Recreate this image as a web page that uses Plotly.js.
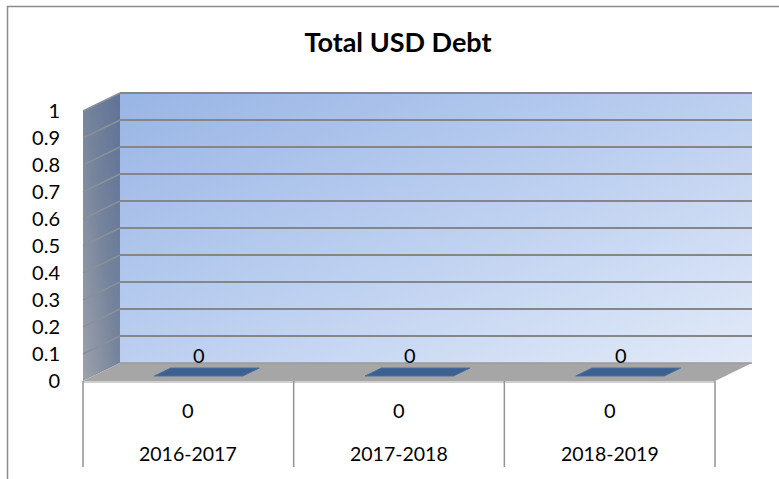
<!DOCTYPE html>
<html>
<head>
<meta charset="utf-8">
<script src="https://cdn.plot.ly/plotly-3.0.1.min.js"></script>
<style>
  html, body { margin: 0; padding: 0; background: #ffffff; }
  #chart { width: 779px; height: 479px; }
</style>
</head>
<body>
<div id="chart"></div>
<script>
// ---- data ----
const categories = ['2016-2017', '2017-2018', '2018-2019'];
const values = [0, 0, 0];
const yTicks = [0, 0.1, 0.2, 0.3, 0.4, 0.5, 0.6, 0.7, 0.8, 0.9, 1];
const chartTitle = 'Total USD Debt';

// ---- geometry (pixel anchors of the oblique 3-D frame) ----
const W = 779, H = 479;
const PL = 78, PR = 760, PT = 88, PB = 470;     // plot area box
const FRONT_LEFT = 83, FRONT_ZERO = 381;        // front-left corner of the floor
const CAT_PX = 210.67, UNIT_PX = 270;           // px per category, px per unit
const DEPTH_X_PX = 37, DEPTH_Y_PX = 18;         // oblique depth offset
const TABLE_BOTTOM_PX = 467;

const DX = DEPTH_X_PX / CAT_PX;
const DY = DEPTH_Y_PX / UNIT_PX;
const xRange = [-0.5 - (FRONT_LEFT - PL) / CAT_PX, -0.5 + (PR - FRONT_LEFT) / CAT_PX];
const yRange = [-(PB - FRONT_ZERO) / UNIT_PX, (FRONT_ZERO - PT) / UNIT_PX];
const yMax = yTicks[yTicks.length - 1];
const n = categories.length;
const xL = -0.5, xR = n - 0.5;
const tableBottom = -(TABLE_BOTTOM_PX - FRONT_ZERO) / UNIT_PX;
const px2paperX = p => (p - PL) / (PR - PL);
const px2paperY = p => (PB - p) / (PB - PT);

const FONT = 'Lato, "Open Sans", "Liberation Sans", sans-serif';

// ---- decorative wall images (gradients) ----
const svgURI = s => 'data:image/svg+xml;charset=utf-8,' + encodeURIComponent(s);
const backWallSVG =
  '<svg xmlns="http://www.w3.org/2000/svg" width="100" height="100" viewBox="0 0 100 100" preserveAspectRatio="none">' +
  '<defs><linearGradient id="g" x1="0" y1="0" x2="1" y2="1">' +
  '<stop offset="0" stop-color="#99b5e5"/><stop offset="0.5" stop-color="#bccff0"/><stop offset="1" stop-color="#e2eaf8"/>' +
  '</linearGradient></defs><rect x="0" y="0" width="100" height="100" fill="url(#g)"/></svg>';
const sideTop = 100 * DY / (yMax + DY);
const sideWallSVG =
  '<svg xmlns="http://www.w3.org/2000/svg" width="100" height="100" viewBox="0 0 100 100" preserveAspectRatio="none">' +
  '<defs><linearGradient id="s" x1="1" y1="0" x2="0" y2="1">' +
  '<stop offset="0" stop-color="#5f7398"/><stop offset="0.5" stop-color="#76849c"/><stop offset="1" stop-color="#9ca2ac"/>' +
  '</linearGradient></defs>' +
  '<polygon points="0,100 100,' + (100 - sideTop) + ' 100,0 0,' + sideTop + '" fill="url(#s)"/></svg>';

const images = [
  { source: svgURI(backWallSVG), xref: 'x', yref: 'y', x: xL + DX, y: yMax + DY,
    sizex: n, sizey: yMax, sizing: 'stretch', xanchor: 'left', yanchor: 'top', layer: 'below' },
  { source: svgURI(sideWallSVG), xref: 'x', yref: 'y', x: xL, y: yMax + DY,
    sizex: DX, sizey: yMax + DY, sizing: 'stretch', xanchor: 'left', yanchor: 'top', layer: 'below' }
];

// ---- shapes: floor, gridlines, table, border ----
const shapes = [];
// floor
shapes.push({ type: 'path', xref: 'x', yref: 'y', layer: 'between',
  path: `M ${xL} 0 L ${xR} 0 L ${xR + DX} ${DY} L ${xL + DX} ${DY} Z`,
  fillcolor: '#a6a6a6', line: { width: 0 } });
shapes.push({ type: 'line', xref: 'x', yref: 'y', layer: 'between',
  x0: xL, x1: xR, y0: -0.004, y1: -0.004, line: { color: '#cfcfcf', width: 2 } });
// gridlines on back wall and side wall
yTicks.forEach(t => {
  if (t === 0) return;
  shapes.push({ type: 'line', xref: 'x', yref: 'y', layer: 'between',
    x0: xL + DX, x1: xR + DX, y0: t + DY, y1: t + DY, line: { color: '#868686', width: 2 } });
  shapes.push({ type: 'line', xref: 'x', yref: 'y', layer: 'between',
    x0: xL, x1: xL + DX, y0: t, y1: t + DY, line: { color: '#8a9099', width: 1.5 } });
});
// back wall bottom edge
shapes.push({ type: 'line', xref: 'x', yref: 'y', layer: 'between',
  x0: xL + DX, x1: xR + DX, y0: DY, y1: DY, line: { color: '#9a9a9a', width: 1.5 } });
// data table verticals
for (let k = 0; k <= n; k++) {
  shapes.push({ type: 'line', xref: 'x', yref: 'y', layer: 'above',
    x0: xL + k, x1: xL + k, y0: 0, y1: tableBottom, line: { color: '#939393', width: 1.5 } });
}
// chart outer border (runs off the picture at right and bottom)
shapes.push({ type: 'rect', xref: 'paper', yref: 'paper', layer: 'above',
  x0: px2paperX(7.5), x1: px2paperX(W + 20), y0: px2paperY(H + 20), y1: px2paperY(6.5),
  line: { color: '#8c8c8c', width: 1.5 }, fillcolor: 'rgba(0,0,0,0)' });

// ---- bars (top face of each 3-D column, drawn from values) ----
const BAR_HALF = 0.21, D1 = 0.28, D2 = 0.72;
const traces = values.map((v, i) => {
  const fx = d => d * DX, fy = d => d * DY;
  const xs = [i - BAR_HALF + fx(D1), i + BAR_HALF + fx(D1), i + BAR_HALF + fx(D2), i - BAR_HALF + fx(D2), i - BAR_HALF + fx(D1)];
  const ys = [v + fy(D1), v + fy(D1), v + fy(D2), v + fy(D2), v + fy(D1)];
  return { type: 'scatter', mode: 'lines', x: xs, y: ys, fill: 'toself',
    fillcolor: '#3c6190', line: { color: '#4a6f9e', width: 1 },
    hoverinfo: 'skip', showlegend: false, cliponaxis: false };
});
// front faces (zero height here, but drawn from values)
values.forEach((v, i) => {
  traces.push({ type: 'scatter', mode: 'lines', fill: 'toself',
    x: [i - BAR_HALF + D1 * DX, i + BAR_HALF + D1 * DX, i + BAR_HALF + D1 * DX, i - BAR_HALF + D1 * DX, i - BAR_HALF + D1 * DX],
    y: [D1 * DY, D1 * DY, v + D1 * DY, v + D1 * DY, D1 * DY],
    fillcolor: '#4f81bd', line: { width: 0 }, hoverinfo: 'skip', showlegend: false });
});

// ---- annotations: data labels and table cells ----
const annotations = [];
values.forEach((v, i) => {
  annotations.push({ xref: 'x', yref: 'y', x: i + 0.3 * DX, y: v + 0.3 * DY, yshift: 21,
    text: String(v), showarrow: false, xanchor: 'center', yanchor: 'middle',
    font: { family: FONT, size: 20, color: '#000000' } });
  annotations.push({ xref: 'x', yref: 'y', x: i, y: -29 / UNIT_PX,
    text: String(v), showarrow: false, xanchor: 'center', yanchor: 'middle',
    font: { family: FONT, size: 20, color: '#000000' } });
  annotations.push({ xref: 'x', yref: 'y', x: i, y: -72 / UNIT_PX,
    text: categories[i], showarrow: false, xanchor: 'center', yanchor: 'middle',
    font: { family: FONT, size: 19.5, color: '#000000' } });
});

const layout = {
  width: W, height: H,
  margin: { l: PL, r: W - PR, t: PT, b: H - PB, pad: 0 },
  paper_bgcolor: '#ffffff', plot_bgcolor: 'rgba(0,0,0,0)',
  title: { text: '<b>' + chartTitle + '</b>', x: 398 / W, xref: 'container', xanchor: 'center',
    y: 1 - 43 / H, yref: 'container', yanchor: 'middle',
    font: { family: FONT, size: 27, color: '#000000' } },
  xaxis: { range: xRange, showgrid: false, zeroline: false, showline: false,
    showticklabels: false, ticks: '', fixedrange: true },
  yaxis: { range: yRange, tickmode: 'array', tickvals: yTicks, showgrid: false,
    zeroline: false, showline: false, ticks: 'outside', ticklen: 13,
    tickcolor: 'rgba(0,0,0,0)', tickfont: { family: FONT, size: 20, color: '#000000' },
    fixedrange: true },
  shapes: shapes, images: images, annotations: annotations,
  showlegend: false, hovermode: false
};

Plotly.newPlot('chart', traces, layout, { displayModeBar: false, staticPlot: true });
</script>
</body>
</html>
